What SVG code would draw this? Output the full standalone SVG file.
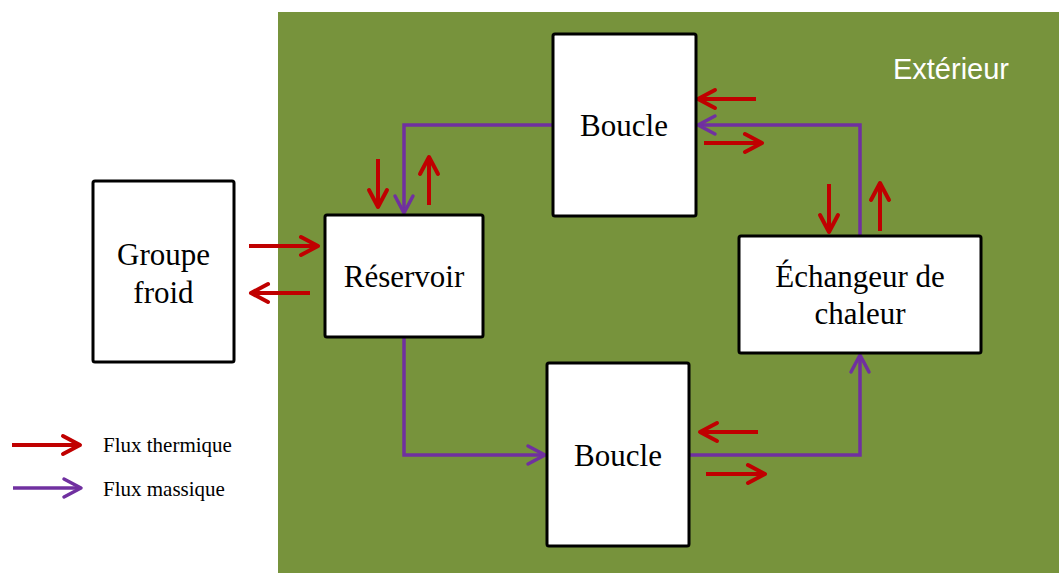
<svg xmlns="http://www.w3.org/2000/svg" width="1059" height="573" viewBox="0 0 1059 573">
  <style>
    .box { fill: #ffffff; stroke: #000000; stroke-width: 3; }
    .lbl { font-family: "Liberation Serif", "Times New Roman", serif; font-size: 31px; fill: #000000; text-anchor: middle; }
    .leg { font-family: "Liberation Serif", "Times New Roman", serif; font-size: 21px; fill: #000000; }
    .heat { fill: none; stroke: #C00000; stroke-width: 4; marker-end: url(#mRed); }
    .mass { fill: none; stroke: #7030A0; stroke-width: 3.5; stroke-linejoin: miter; marker-end: url(#mPurple); }
  </style>
  <defs>
    <marker id="mRed" markerUnits="userSpaceOnUse" markerWidth="40" markerHeight="40" refX="0" refY="0" orient="auto" viewBox="-20 -20 40 40" overflow="visible">
      <path d="M-17,-9 L0,0 L-17,9" fill="none" stroke="#C00000" stroke-width="4" stroke-linecap="round" stroke-linejoin="round"/>
    </marker>
    <marker id="mPurple" markerUnits="userSpaceOnUse" markerWidth="40" markerHeight="40" refX="0" refY="0" orient="auto" viewBox="-20 -20 40 40" overflow="visible">
      <path d="M-17,-9 L0,0 L-17,9" fill="none" stroke="#7030A0" stroke-width="3.5" stroke-linecap="round" stroke-linejoin="round"/>
    </marker>
  </defs>

  <rect x="0" y="0" width="1059" height="573" fill="#ffffff"/>
  <rect id="exterieur" x="278" y="12" width="781" height="561" fill="#77933C"/>
  <text x="951" y="79" font-family="'Liberation Sans', Arial, sans-serif" font-size="29" fill="#ffffff" text-anchor="middle">Extérieur</text>

  <g id="connectors">
    <!-- mass flows -->
    <path class="mass" d="M553,125 H404 V213"/>
    <path class="mass" d="M860,236 V125 H698"/>
    <path class="mass" d="M404,337 V455 H545"/>
    <path class="mass" d="M689,455 H860 V355"/>
    <!-- heat flows -->
    <path class="heat" d="M378,159 V207"/>
    <path class="heat" d="M429,205 V157"/>
    <path class="heat" d="M249,246 H318"/>
    <path class="heat" d="M310,293 H251"/>
    <path class="heat" d="M756,99 H698"/>
    <path class="heat" d="M704,143 H762"/>
    <path class="heat" d="M829,184 V232"/>
    <path class="heat" d="M880,231 V183"/>
    <path class="heat" d="M758,432 H700"/>
    <path class="heat" d="M706,474 H765"/>
  </g>

  <g id="groupe-froid">
    <rect class="box" x="93" y="181" width="141" height="181" rx="2"/>
    <text class="lbl" x="163.5" y="265">Groupe</text>
    <text class="lbl" x="163.5" y="303">froid</text>
  </g>

  <g id="reservoir">
    <rect class="box" x="325" y="215" width="158" height="122" rx="2"/>
    <text class="lbl" x="404" y="287">Réservoir</text>
  </g>

  <g id="boucle-haut">
    <rect class="box" x="553" y="34" width="143" height="182" rx="2"/>
    <text class="lbl" x="624" y="136">Boucle</text>
  </g>

  <g id="echangeur">
    <rect class="box" x="739" y="236" width="242" height="117" rx="2"/>
    <text class="lbl" x="860" y="287">Échangeur de</text>
    <text class="lbl" x="860" y="324">chaleur</text>
  </g>

  <g id="boucle-bas">
    <rect class="box" x="547" y="363" width="142" height="183" rx="2"/>
    <text class="lbl" x="618" y="466">Boucle</text>
  </g>

  <g id="legende">
    <path class="heat" d="M12,445 H80"/>
    <text class="leg" x="103" y="452">Flux thermique</text>
    <path class="mass" d="M13,488 H81"/>
    <text class="leg" x="103" y="496">Flux massique</text>
  </g>
</svg>
